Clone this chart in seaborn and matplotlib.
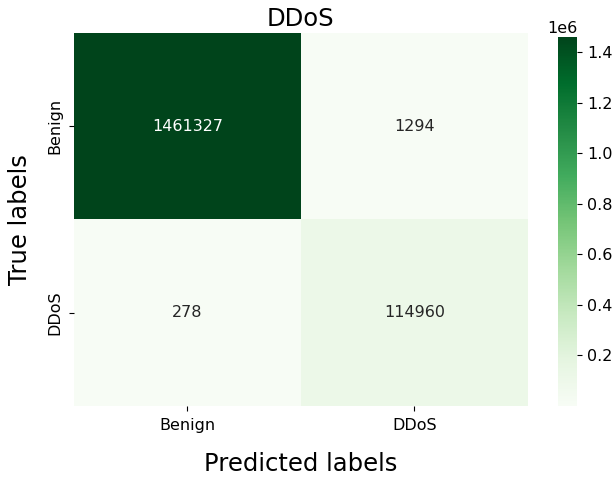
import matplotlib
matplotlib.use("Agg")
import matplotlib.pyplot as plt
import seaborn as sns
import numpy as np

# Confusion matrix counts
class_names = ["Benign", "DDoS"]
row_benign = [1461327, 1294]
row_ddos = [278, 114960]

cm = np.array([row_benign, row_ddos])

fig = plt.figure(figsize=(6.16, 4.78), dpi=100)
ax = fig.add_axes([0.120, 0.151, 0.737, 0.780])
cax = fig.add_axes([0.906, 0.151, 0.031, 0.772])

sns.heatmap(cm, annot=True, fmt="d", cmap="Greens", ax=ax, cbar_ax=cax,
            xticklabels=class_names, yticklabels=class_names,
            annot_kws={"fontsize": 11.5})

ax.set_title("DDoS", fontsize=17.5, pad=5)
ax.set_xlabel("Predicted labels", fontsize=17.5, labelpad=14)
ax.set_ylabel("True labels", fontsize=17.5, labelpad=11)
ax.tick_params(axis="both", labelsize=11.5, pad=5)

cax.tick_params(labelsize=11.5)
cax.yaxis.get_offset_text().set_fontsize(11.5)

fig.savefig("out.png", dpi=100)
